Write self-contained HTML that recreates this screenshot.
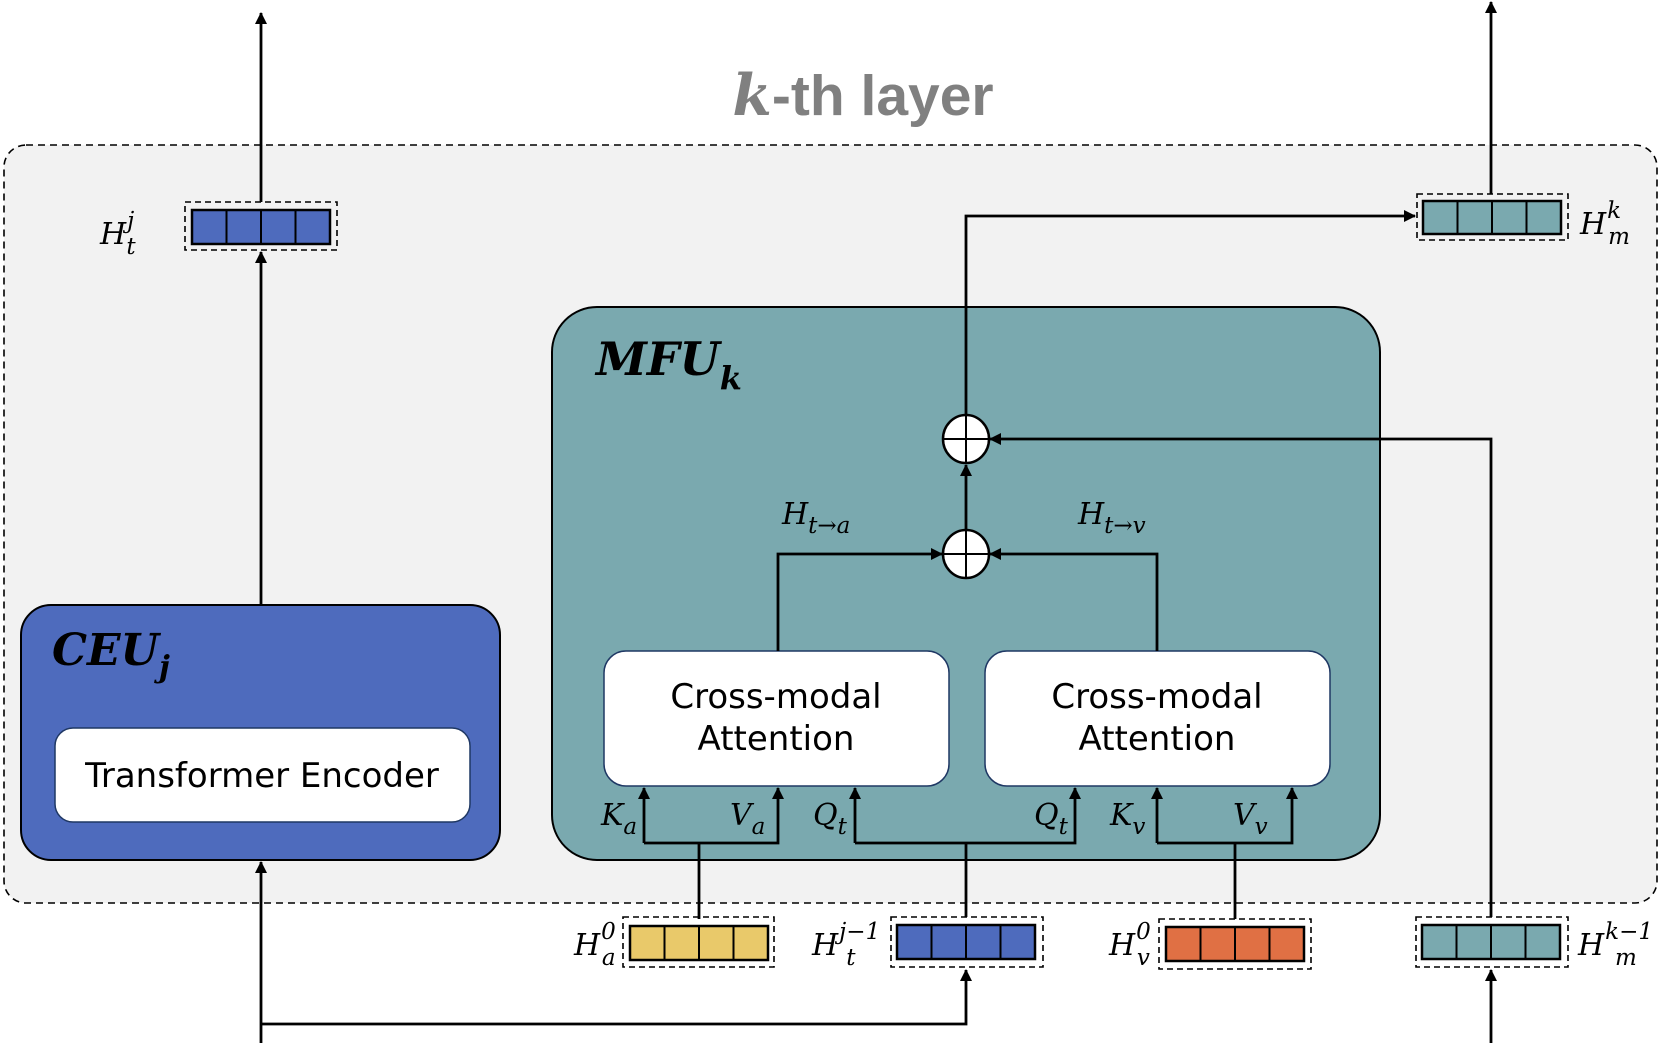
<!DOCTYPE html>
<html><head><meta charset="utf-8"><style>
html,body{margin:0;padding:0;background:#fff;}
svg{display:block;}
.m{font-family:"DejaVu Serif","Liberation Serif",serif;font-style:italic;fill:#000;}
.s{font-family:"DejaVu Sans","Liberation Sans",sans-serif;fill:#000;}
</style></head><body>
<svg width="1661" height="1048" viewBox="0 0 1661 1048" xmlns="http://www.w3.org/2000/svg">
<defs>
<marker id="a" markerWidth="12" markerHeight="12" refX="11" refY="6" orient="auto" markerUnits="userSpaceOnUse">
<path d="M0,0 L12,6 L0,12 z" fill="#000"/></marker>
</defs>
<rect x="4" y="145" width="1653" height="758" rx="22" fill="#f2f2f2" stroke="#000" stroke-width="1.6" stroke-dasharray="7,5"/>
<text x="863" y="115" text-anchor="middle" font-size="57" font-weight="bold" fill="#808080" font-family="Liberation Sans, sans-serif"><tspan font-style="italic" font-family="DejaVu Serif, serif">k</tspan>-th layer</text>

<rect x="21" y="605" width="479" height="255" rx="30" fill="#4e6bbd" stroke="#000" stroke-width="2"/>
<text x="52" y="665" class="m" font-size="44" font-weight="bold">CEU<tspan font-size="30" dy="12">j</tspan></text>
<rect x="55" y="728" width="415" height="94" rx="18" fill="#fff" stroke="#1f3864" stroke-width="1.5"/>
<text x="262" y="787" text-anchor="middle" class="s" font-size="34">Transformer Encoder</text>

<rect x="552" y="307" width="828" height="553" rx="45" fill="#7aa9af" stroke="#000" stroke-width="2"/>
<text x="596" y="375" class="m" font-size="46" font-weight="bold">MFU<tspan font-size="32" dy="14">k</tspan></text>
<rect x="604" y="651" width="345" height="135" rx="22" fill="#fff" stroke="#1f3864" stroke-width="1.5"/>
<rect x="985" y="651" width="345" height="135" rx="22" fill="#fff" stroke="#1f3864" stroke-width="1.5"/>
<text x="776" y="708" text-anchor="middle" class="s" font-size="34">Cross-modal</text>
<text x="776" y="750" text-anchor="middle" class="s" font-size="34">Attention</text>
<text x="1157" y="708" text-anchor="middle" class="s" font-size="34">Cross-modal</text>
<text x="1157" y="750" text-anchor="middle" class="s" font-size="34">Attention</text>

<g stroke="#000" stroke-width="2.8" fill="none">
<line x1="261" y1="1043" x2="261" y2="862" marker-end="url(#a)"/>
<line x1="261" y1="605" x2="261" y2="252" marker-end="url(#a)"/>
<line x1="261" y1="202" x2="261" y2="13" marker-end="url(#a)"/>
<polyline points="261,1024 966,1024 966,970" marker-end="url(#a)"/>
<line x1="699" y1="919" x2="699" y2="843"/>
<polyline points="644,843 644,788" marker-end="url(#a)"/>
<polyline points="644,843 778,843 778,788" marker-end="url(#a)"/>
<line x1="966" y1="917" x2="966" y2="843"/>
<polyline points="855,843 855,788" marker-end="url(#a)"/>
<polyline points="855,843 1075,843 1075,788" marker-end="url(#a)"/>
<line x1="1235" y1="919" x2="1235" y2="843"/>
<polyline points="1157,843 1157,788" marker-end="url(#a)"/>
<polyline points="1157,843 1292,843 1292,788" marker-end="url(#a)"/>
<polyline points="778,651 778,554 942,554" marker-end="url(#a)"/>
<polyline points="1157,651 1157,554 990,554" marker-end="url(#a)"/>
<line x1="966" y1="530" x2="966" y2="465" marker-end="url(#a)"/>
<polyline points="966,415 966,216 1415,216" marker-end="url(#a)"/>
<line x1="1491" y1="1043" x2="1491" y2="970" marker-end="url(#a)"/>
<polyline points="1491,917 1491,439 990,439" marker-end="url(#a)"/>
<line x1="1491" y1="194" x2="1491" y2="2" marker-end="url(#a)"/>
</g>

<g stroke="#000" stroke-width="2.5" fill="#fff">
<ellipse cx="966" cy="439" rx="23" ry="24"/>
<ellipse cx="966" cy="554" rx="23" ry="24"/>
</g>
<g stroke="#000" stroke-width="2">
<line x1="943" y1="439" x2="989" y2="439"/><line x1="966" y1="415" x2="966" y2="463"/>
<line x1="943" y1="554" x2="989" y2="554"/><line x1="966" y1="530" x2="966" y2="578"/>
</g>

<g stroke="#000">
<g>
<rect x="185" y="202" width="152" height="48" fill="none" stroke-width="1.6" stroke-dasharray="6,4"/>
<rect x="192" y="210" width="138" height="34" fill="#4e6bbd" stroke-width="2.5"/>
<path d="M226.5,210V244M261,210V244M295.5,210V244" stroke-width="2"/>
</g>
<g>
<rect x="1417" y="194" width="151" height="46" fill="none" stroke-width="1.6" stroke-dasharray="6,4"/>
<rect x="1423" y="201" width="138" height="33" fill="#7aa9af" stroke-width="2.5"/>
<path d="M1457.5,201V234M1492,201V234M1526.5,201V234" stroke-width="2"/>
</g>
<g>
<rect x="623" y="917" width="151" height="50" fill="none" stroke-width="1.6" stroke-dasharray="6,4"/>
<rect x="630" y="926" width="138" height="34" fill="#e9c96a" stroke-width="2.5"/>
<path d="M664.5,926V960M699,926V960M733.5,926V960" stroke-width="2"/>
</g>
<g>
<rect x="891" y="917" width="152" height="50" fill="none" stroke-width="1.6" stroke-dasharray="6,4"/>
<rect x="897" y="925" width="138" height="34" fill="#4e6bbd" stroke-width="2.5"/>
<path d="M931.5,925V959M966,925V959M1000.5,925V959" stroke-width="2"/>
</g>
<g>
<rect x="1159" y="919" width="152" height="50" fill="none" stroke-width="1.6" stroke-dasharray="6,4"/>
<rect x="1166" y="927" width="138" height="34" fill="#e07044" stroke-width="2.5"/>
<path d="M1200.5,927V961M1235,927V961M1269.5,927V961" stroke-width="2"/>
</g>
<g>
<rect x="1416" y="917" width="152" height="50" fill="none" stroke-width="1.6" stroke-dasharray="6,4"/>
<rect x="1422" y="925" width="138" height="34" fill="#7aa9af" stroke-width="2.5"/>
<path d="M1456.5,925V959M1491,925V959M1525.5,925V959" stroke-width="2"/>
</g>
</g>

<g class="m" font-size="30">
<text x="100" y="244">H<tspan font-size="23" dx="1" dy="-16">j</tspan><tspan font-size="23" dx="-8" dy="26">t</tspan></text>
<text x="1580" y="234">H<tspan font-size="23" dx="1" dy="-16">k</tspan><tspan font-size="23" dx="-13" dy="26">m</tspan></text>
<text x="574" y="955">H<tspan font-size="23" dx="1" dy="-16">0</tspan><tspan font-size="23" dx="-14" dy="26">a</tspan></text>
<text x="812" y="955">H<tspan font-size="23" dx="1" dy="-16">j−1</tspan><tspan font-size="23" dx="-34" dy="26">t</tspan></text>
<text x="1109" y="955">H<tspan font-size="23" dx="1" dy="-16">0</tspan><tspan font-size="23" dx="-14" dy="26">v</tspan></text>
<text x="1578" y="955">H<tspan font-size="23" dx="1" dy="-16">k−1</tspan><tspan font-size="23" dx="-38" dy="26">m</tspan></text>
<text x="782" y="524">H<tspan font-size="23" dy="9">t→a</tspan></text>
<text x="1078" y="524">H<tspan font-size="23" dy="9">t→v</tspan></text>
<text x="601" y="825">K<tspan font-size="23" dy="9">a</tspan></text>
<text x="730" y="825">V<tspan font-size="23" dy="9">a</tspan></text>
<text x="813" y="825">Q<tspan font-size="23" dy="9">t</tspan></text>
<text x="1034" y="825">Q<tspan font-size="23" dy="9">t</tspan></text>
<text x="1110" y="825">K<tspan font-size="23" dy="9">v</tspan></text>
<text x="1233" y="825">V<tspan font-size="23" dy="9">v</tspan></text>
</g>
</svg>
</body></html>
